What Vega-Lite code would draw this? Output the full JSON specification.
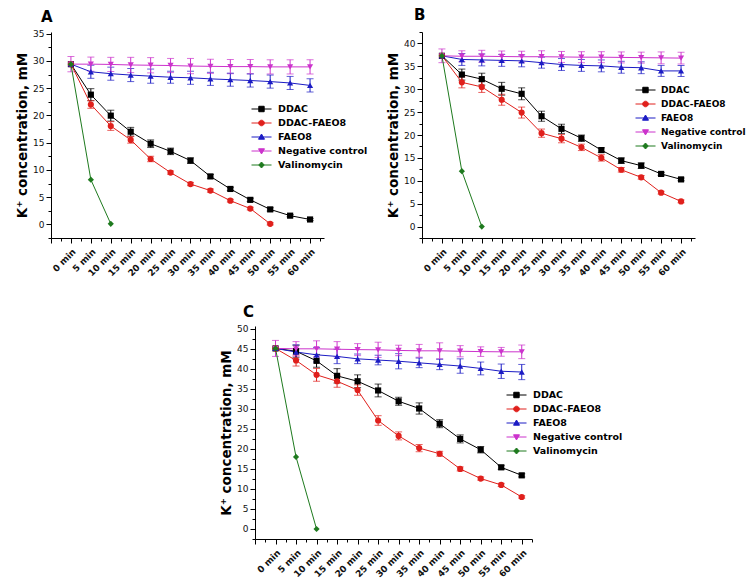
{
  "$schema": "https://vega.github.io/schema/vega-lite/v6.json",
  "padding": {"left": 15, "top": 8, "right": 2, "bottom": 2},
  "background": "white",
  "config": {
    "view": {"stroke": null},
    "font": "DejaVu Sans",
    "axis": {
      "grid": false,
      "domainColor": "#000",
      "domainWidth": 1,
      "tickColor": "#000",
      "tickWidth": 1,
      "labelColor": "#111",
      "labelFont": "DejaVu Sans",
      "labelFontSize": 9,
      "labelFlush": false,
      "labelOverlap": false,
      "titleFont": "DejaVu Sans",
      "titleFontSize": 13.5,
      "titleFontWeight": "bold",
      "titleColor": "#000"
    },
    "axisX": {
      "labelAngle": -45,
      "labelAlign": "right",
      "labelBaseline": "top",
      "labelFontWeight": "bold",
      "labelFontSize": 9,
      "labelPadding": 4,
      "labelOverlap": false,
      "title": null
    },
    "axisY": {
      "labelPadding": 2,
      "titlePadding": 3,
      "labelOverlap": false
    },
    "legend": {
      "orient": "none",
      "title": null,
      "labelFont": "DejaVu Sans",
      "labelFontSize": 9.5,
      "labelFontWeight": "bold",
      "labelColor": "#000",
      "symbolSize": 169,
      "symbolStrokeWidth": 1,
      "symbolOpacity": 1,
      "rowPadding": 2,
      "labelOffset": 13
    },
    "title": {"font": "DejaVu Sans", "fontSize": 15, "fontWeight": "bold", "color": "#000", "anchor": "start", "frame": "group", "offset": 5}
  },
  "datasets": {
    "panelA": [
      {"t": 0, "series": "DDAC", "k": 29.4, "err": 0},
      {"t": 5, "series": "DDAC", "k": 23.8, "err": 1.1},
      {"t": 10, "series": "DDAC", "k": 19.95, "err": 1.0},
      {"t": 15, "series": "DDAC", "k": 17.0, "err": 0.8},
      {"t": 20, "series": "DDAC", "k": 14.8, "err": 0.7},
      {"t": 25, "series": "DDAC", "k": 13.4, "err": 0.6},
      {"t": 30, "series": "DDAC", "k": 11.7, "err": 0.5},
      {"t": 35, "series": "DDAC", "k": 8.8, "err": 0.35},
      {"t": 40, "series": "DDAC", "k": 6.5, "err": 0.3},
      {"t": 45, "series": "DDAC", "k": 4.5, "err": 0.3},
      {"t": 50, "series": "DDAC", "k": 2.75, "err": 0.3},
      {"t": 55, "series": "DDAC", "k": 1.6, "err": 0.2},
      {"t": 60, "series": "DDAC", "k": 0.9, "err": 0.2},
      {"t": 0, "series": "DDAC-FAEO8", "k": 29.4, "err": 0},
      {"t": 5, "series": "DDAC-FAEO8", "k": 22.0, "err": 0.7},
      {"t": 10, "series": "DDAC-FAEO8", "k": 18.05, "err": 0.8},
      {"t": 15, "series": "DDAC-FAEO8", "k": 15.5, "err": 0.6},
      {"t": 20, "series": "DDAC-FAEO8", "k": 12.0, "err": 0.5},
      {"t": 25, "series": "DDAC-FAEO8", "k": 9.5, "err": 0.3},
      {"t": 30, "series": "DDAC-FAEO8", "k": 7.4, "err": 0.3},
      {"t": 35, "series": "DDAC-FAEO8", "k": 6.2, "err": 0.3},
      {"t": 40, "series": "DDAC-FAEO8", "k": 4.35, "err": 0.25},
      {"t": 45, "series": "DDAC-FAEO8", "k": 2.9, "err": 0.25},
      {"t": 50, "series": "DDAC-FAEO8", "k": 0.1, "err": 0.2},
      {"t": 0, "series": "FAEO8", "k": 29.4, "err": 0},
      {"t": 5, "series": "FAEO8", "k": 28.0, "err": 1.2},
      {"t": 10, "series": "FAEO8", "k": 27.65, "err": 1.2},
      {"t": 15, "series": "FAEO8", "k": 27.4, "err": 1.2},
      {"t": 20, "series": "FAEO8", "k": 27.2, "err": 1.3},
      {"t": 25, "series": "FAEO8", "k": 27.0, "err": 1.1},
      {"t": 30, "series": "FAEO8", "k": 26.9, "err": 1.2},
      {"t": 35, "series": "FAEO8", "k": 26.7, "err": 1.2},
      {"t": 40, "series": "FAEO8", "k": 26.55, "err": 1.2},
      {"t": 45, "series": "FAEO8", "k": 26.4, "err": 1.2},
      {"t": 50, "series": "FAEO8", "k": 26.2, "err": 1.2},
      {"t": 55, "series": "FAEO8", "k": 25.95, "err": 1.2},
      {"t": 60, "series": "FAEO8", "k": 25.5, "err": 1.2},
      {"t": 0, "series": "Negative control", "k": 29.4, "err": 1.4},
      {"t": 5, "series": "Negative control", "k": 29.4, "err": 1.3},
      {"t": 10, "series": "Negative control", "k": 29.35, "err": 1.3},
      {"t": 15, "series": "Negative control", "k": 29.25, "err": 1.4},
      {"t": 20, "series": "Negative control", "k": 29.2, "err": 1.4},
      {"t": 25, "series": "Negative control", "k": 29.15, "err": 1.3},
      {"t": 30, "series": "Negative control", "k": 29.05, "err": 1.4},
      {"t": 35, "series": "Negative control", "k": 29.0, "err": 1.3},
      {"t": 40, "series": "Negative control", "k": 28.95, "err": 1.3},
      {"t": 45, "series": "Negative control", "k": 28.95, "err": 1.3},
      {"t": 50, "series": "Negative control", "k": 28.9, "err": 1.3},
      {"t": 55, "series": "Negative control", "k": 28.9, "err": 1.3},
      {"t": 60, "series": "Negative control", "k": 28.9, "err": 1.3},
      {"t": 0, "series": "Valinomycin", "k": 29.4, "err": 0},
      {"t": 5, "series": "Valinomycin", "k": 8.2, "err": 0},
      {"t": 10, "series": "Valinomycin", "k": 0.1, "err": 0}
    ],
    "panelB": [
      {"t": 0, "series": "DDAC", "k": 37.3, "err": 0},
      {"t": 5, "series": "DDAC", "k": 33.2, "err": 1.2},
      {"t": 10, "series": "DDAC", "k": 32.2, "err": 1.3},
      {"t": 15, "series": "DDAC", "k": 30.1, "err": 1.4},
      {"t": 20, "series": "DDAC", "k": 29.0, "err": 1.3},
      {"t": 25, "series": "DDAC", "k": 24.1, "err": 1.1},
      {"t": 30, "series": "DDAC", "k": 21.35, "err": 1.0},
      {"t": 35, "series": "DDAC", "k": 19.3, "err": 0.7},
      {"t": 40, "series": "DDAC", "k": 16.7, "err": 0.5},
      {"t": 45, "series": "DDAC", "k": 14.4, "err": 0.6},
      {"t": 50, "series": "DDAC", "k": 13.3, "err": 0.6},
      {"t": 55, "series": "DDAC", "k": 11.5, "err": 0.3},
      {"t": 60, "series": "DDAC", "k": 10.3, "err": 0.3},
      {"t": 0, "series": "DDAC-FAEO8", "k": 37.3, "err": 0},
      {"t": 5, "series": "DDAC-FAEO8", "k": 31.5, "err": 1.2},
      {"t": 10, "series": "DDAC-FAEO8", "k": 30.5, "err": 1.2},
      {"t": 15, "series": "DDAC-FAEO8", "k": 27.7, "err": 1.2},
      {"t": 20, "series": "DDAC-FAEO8", "k": 24.9, "err": 1.2},
      {"t": 25, "series": "DDAC-FAEO8", "k": 20.4, "err": 0.9},
      {"t": 30, "series": "DDAC-FAEO8", "k": 19.2, "err": 0.9},
      {"t": 35, "series": "DDAC-FAEO8", "k": 17.3, "err": 0.7},
      {"t": 40, "series": "DDAC-FAEO8", "k": 15.0, "err": 0.7},
      {"t": 45, "series": "DDAC-FAEO8", "k": 12.4, "err": 0.5},
      {"t": 50, "series": "DDAC-FAEO8", "k": 10.75, "err": 0.4},
      {"t": 55, "series": "DDAC-FAEO8", "k": 7.4, "err": 0.3},
      {"t": 60, "series": "DDAC-FAEO8", "k": 5.5, "err": 0.3},
      {"t": 0, "series": "FAEO8", "k": 37.3, "err": 0},
      {"t": 5, "series": "FAEO8", "k": 36.5, "err": 1.3},
      {"t": 10, "series": "FAEO8", "k": 36.4, "err": 1.3},
      {"t": 15, "series": "FAEO8", "k": 36.3, "err": 1.3},
      {"t": 20, "series": "FAEO8", "k": 36.2, "err": 1.3},
      {"t": 25, "series": "FAEO8", "k": 35.8, "err": 1.2},
      {"t": 30, "series": "FAEO8", "k": 35.4, "err": 1.3},
      {"t": 35, "series": "FAEO8", "k": 35.2, "err": 1.3},
      {"t": 40, "series": "FAEO8", "k": 35.1, "err": 1.3},
      {"t": 45, "series": "FAEO8", "k": 34.8, "err": 1.3},
      {"t": 50, "series": "FAEO8", "k": 34.7, "err": 1.3},
      {"t": 55, "series": "FAEO8", "k": 34.0, "err": 1.2},
      {"t": 60, "series": "FAEO8", "k": 34.0, "err": 1.2},
      {"t": 0, "series": "Negative control", "k": 37.3, "err": 1.5},
      {"t": 5, "series": "Negative control", "k": 37.2, "err": 1.2},
      {"t": 10, "series": "Negative control", "k": 37.2, "err": 1.3},
      {"t": 15, "series": "Negative control", "k": 37.15, "err": 1.2},
      {"t": 20, "series": "Negative control", "k": 37.1, "err": 1.2},
      {"t": 25, "series": "Negative control", "k": 37.1, "err": 1.3},
      {"t": 30, "series": "Negative control", "k": 37.05, "err": 1.2},
      {"t": 35, "series": "Negative control", "k": 37.0, "err": 1.2},
      {"t": 40, "series": "Negative control", "k": 37.0, "err": 1.2},
      {"t": 45, "series": "Negative control", "k": 36.95, "err": 1.2},
      {"t": 50, "series": "Negative control", "k": 36.9, "err": 1.2},
      {"t": 55, "series": "Negative control", "k": 36.85, "err": 1.3},
      {"t": 60, "series": "Negative control", "k": 36.8, "err": 1.3},
      {"t": 0, "series": "Valinomycin", "k": 37.3, "err": 0},
      {"t": 5, "series": "Valinomycin", "k": 12.1, "err": 0},
      {"t": 10, "series": "Valinomycin", "k": 0.0, "err": 0}
    ],
    "panelC": [
      {"t": 0, "series": "DDAC", "k": 45.1, "err": 0},
      {"t": 5, "series": "DDAC", "k": 44.4, "err": 1.5},
      {"t": 10, "series": "DDAC", "k": 42.0, "err": 1.6},
      {"t": 15, "series": "DDAC", "k": 38.25, "err": 1.8},
      {"t": 20, "series": "DDAC", "k": 36.9, "err": 1.6},
      {"t": 25, "series": "DDAC", "k": 34.6, "err": 1.6},
      {"t": 30, "series": "DDAC", "k": 31.9, "err": 1.0},
      {"t": 35, "series": "DDAC", "k": 30.1, "err": 1.4},
      {"t": 40, "series": "DDAC", "k": 26.3, "err": 1.0},
      {"t": 45, "series": "DDAC", "k": 22.5, "err": 1.0},
      {"t": 50, "series": "DDAC", "k": 19.8, "err": 0.8},
      {"t": 55, "series": "DDAC", "k": 15.4, "err": 0.5},
      {"t": 60, "series": "DDAC", "k": 13.4, "err": 0.4},
      {"t": 0, "series": "DDAC-FAEO8", "k": 45.1, "err": 0},
      {"t": 5, "series": "DDAC-FAEO8", "k": 42.1, "err": 1.4},
      {"t": 10, "series": "DDAC-FAEO8", "k": 38.5, "err": 1.6},
      {"t": 15, "series": "DDAC-FAEO8", "k": 36.9, "err": 1.5},
      {"t": 20, "series": "DDAC-FAEO8", "k": 34.7, "err": 1.3},
      {"t": 25, "series": "DDAC-FAEO8", "k": 27.1, "err": 1.2},
      {"t": 30, "series": "DDAC-FAEO8", "k": 23.25, "err": 1.0},
      {"t": 35, "series": "DDAC-FAEO8", "k": 20.2, "err": 0.9},
      {"t": 40, "series": "DDAC-FAEO8", "k": 18.8, "err": 0.6},
      {"t": 45, "series": "DDAC-FAEO8", "k": 15.0, "err": 0.5},
      {"t": 50, "series": "DDAC-FAEO8", "k": 12.6, "err": 0.4},
      {"t": 55, "series": "DDAC-FAEO8", "k": 11.0, "err": 0.4},
      {"t": 60, "series": "DDAC-FAEO8", "k": 8.0, "err": 0.3},
      {"t": 0, "series": "FAEO8", "k": 45.1, "err": 0},
      {"t": 5, "series": "FAEO8", "k": 44.2, "err": 1.8},
      {"t": 10, "series": "FAEO8", "k": 43.5, "err": 1.8},
      {"t": 15, "series": "FAEO8", "k": 43.1, "err": 1.8},
      {"t": 20, "series": "FAEO8", "k": 42.5, "err": 1.2},
      {"t": 25, "series": "FAEO8", "k": 42.2, "err": 1.2},
      {"t": 30, "series": "FAEO8", "k": 41.9, "err": 1.9},
      {"t": 35, "series": "FAEO8", "k": 41.5, "err": 1.2},
      {"t": 40, "series": "FAEO8", "k": 41.1, "err": 1.3},
      {"t": 45, "series": "FAEO8", "k": 40.7, "err": 1.8},
      {"t": 50, "series": "FAEO8", "k": 40.1, "err": 1.6},
      {"t": 55, "series": "FAEO8", "k": 39.4, "err": 1.8},
      {"t": 60, "series": "FAEO8", "k": 39.2, "err": 1.9},
      {"t": 0, "series": "Negative control", "k": 45.1, "err": 2.0},
      {"t": 5, "series": "Negative control", "k": 45.0, "err": 1.8},
      {"t": 10, "series": "Negative control", "k": 45.0, "err": 2.0},
      {"t": 15, "series": "Negative control", "k": 44.9, "err": 1.9},
      {"t": 20, "series": "Negative control", "k": 44.8, "err": 1.5},
      {"t": 25, "series": "Negative control", "k": 44.75, "err": 1.9},
      {"t": 30, "series": "Negative control", "k": 44.6, "err": 1.3},
      {"t": 35, "series": "Negative control", "k": 44.5, "err": 1.6},
      {"t": 40, "series": "Negative control", "k": 44.5, "err": 2.0},
      {"t": 45, "series": "Negative control", "k": 44.4, "err": 1.4},
      {"t": 50, "series": "Negative control", "k": 44.3, "err": 1.2},
      {"t": 55, "series": "Negative control", "k": 44.25, "err": 1.1},
      {"t": 60, "series": "Negative control", "k": 44.25, "err": 1.7},
      {"t": 0, "series": "Valinomycin", "k": 45.1, "err": 0},
      {"t": 5, "series": "Valinomycin", "k": 18.0, "err": 0},
      {"t": 10, "series": "Valinomycin", "k": 0.0, "err": 0}
    ]
  },
  "resolve": {"scale": {"color": "independent"}, "legend": {"color": "independent"}},
  "spacing": 26,
  "vconcat": [
    {
      "spacing": 18,
      "resolve": {"scale": {"color": "independent"}, "legend": {"color": "independent"}},
      "hconcat": [
        {
          "title": {"text": "A", "dx": -10},
          "width": 273,
          "height": 206,
          "data": {"name": "panelA"},
          "encoding": {
            "x": {"field": "t", "type": "quantitative", "scale": {"domain": [-5, 63.5], "nice": false, "zero": false},
                  "axis": {"labelOverlap": false,
                    "values": [-5, -2.5, 0, 2.5, 5, 7.5, 10, 12.5, 15, 17.5, 20, 22.5, 25, 27.5, 30, 32.5, 35, 37.5, 40, 42.5, 45, 47.5, 50, 52.5, 55, 57.5, 60, 62.5],
                    "labelExpr": "datum.value >= 0 && datum.value % 5 === 0 ? datum.value + ' min' : ''",
                    "tickSize": {"condition": {"test": "datum.value % 5 === 0", "value": 5}, "value": 3}}},
            "y": {"field": "k", "type": "quantitative", "title": "K⁺ concentration, mM", "scale": {"domain": [-2.5, 35.3], "nice": false, "zero": false},
                  "axis": {"labelOverlap": false,
                    "values": [-2.5, 0, 2.5, 5, 7.5, 10, 12.5, 15, 17.5, 20, 22.5, 25, 27.5, 30, 32.5, 35],
                    "labelExpr": "datum.value >= 0 && datum.value % 5 === 0 ? datum.label : ''",
                    "tickSize": {"condition": {"test": "datum.value % 5 === 0", "value": 5}, "value": 3}}},
            "color": {"field": "series", "type": "nominal",
              "scale": {"domain": ["DDAC", "DDAC-FAEO8", "FAEO8", "Negative control", "Valinomycin"], "range": ["#000000", "#e0201c", "#1c1cc4", "#cc33cc", "#1e7a1e"]},
              "legend": {"legendX": 200, "legendY": 70,
                "symbolType": {"expr": "({'DDAC': 'M-1,0H2.08M0.12,-0.42H0.95V0.42H0.12Z', 'DDAC-FAEO8': 'M-1,0H2.08M0.11,0A0.43,0.43,0,1,0,0.97,0A0.43,0.43,0,1,0,0.11,0Z', 'FAEO8': 'M-1,0H2.08M0.54,-0.46L1,0.34H0.08Z', 'Negative control': 'M-1,0H2.08M0.54,0.46L1,-0.34H0.08Z', 'Valinomycin': 'M-1,0H2.08M0.54,-0.46L0.95,0L0.54,0.46L0.12,0Z'})[datum.value]"},
                "symbolFillColor": {"expr": "({'DDAC': '#000000', 'DDAC-FAEO8': '#e0201c', 'FAEO8': '#1c1cc4', 'Negative control': '#cc33cc', 'Valinomycin': '#1e7a1e'})[datum.value]"},
                "symbolStrokeColor": {"expr": "({'DDAC': '#000000', 'DDAC-FAEO8': '#e0201c', 'FAEO8': '#1c1cc4', 'Negative control': '#cc33cc', 'Valinomycin': '#1e7a1e'})[datum.value]"}}}
          },
          "layer": [
            {"transform": [{"filter": "datum.err > 0"}], "mark": {"type": "errorbar", "ticks": {"size": 7}, "thickness": 1}, "encoding": {"yError": {"field": "err"}}},
            {"mark": {"type": "line", "strokeWidth": 1}},
            {"transform": [{"filter": "datum.series === 'DDAC'"}], "mark": {"type": "point", "shape": "square", "filled": true, "size": 38, "opacity": 1}},
            {"transform": [{"filter": "datum.series === 'DDAC-FAEO8'"}], "mark": {"type": "point", "shape": "circle", "filled": true, "size": 38, "opacity": 1}},
            {"transform": [{"filter": "datum.series === 'FAEO8'"}], "mark": {"type": "point", "shape": "triangle-up", "filled": true, "size": 38, "opacity": 1}},
            {"transform": [{"filter": "datum.series === 'Negative control'"}], "mark": {"type": "point", "shape": "triangle-down", "filled": true, "size": 38, "opacity": 1}},
            {"transform": [{"filter": "datum.series === 'Valinomycin'"}], "mark": {"type": "point", "shape": "diamond", "filled": true, "size": 38, "opacity": 1}}
          ]
        },
        {
          "title": {"text": "B", "dx": -8},
          "width": 273,
          "height": 206,
          "data": {"name": "panelB"},
          "encoding": {
            "x": {"field": "t", "type": "quantitative", "scale": {"domain": [-5, 63.5], "nice": false, "zero": false},
                  "axis": {"labelOverlap": false,
                    "values": [-5, -2.5, 0, 2.5, 5, 7.5, 10, 12.5, 15, 17.5, 20, 22.5, 25, 27.5, 30, 32.5, 35, 37.5, 40, 42.5, 45, 47.5, 50, 52.5, 55, 57.5, 60, 62.5],
                    "labelExpr": "datum.value >= 0 && datum.value % 5 === 0 ? datum.value + ' min' : ''",
                    "tickSize": {"condition": {"test": "datum.value % 5 === 0", "value": 5}, "value": 3}}},
            "y": {"field": "k", "type": "quantitative", "title": "K⁺ concentration, mM", "scale": {"domain": [-2.5, 42.5], "nice": false, "zero": false},
                  "axis": {"labelOverlap": false,
                    "values": [-2.5, 0, 2.5, 5, 7.5, 10, 12.5, 15, 17.5, 20, 22.5, 25, 27.5, 30, 32.5, 35, 37.5, 40, 42.5],
                    "labelExpr": "datum.value >= 0 && datum.value % 5 === 0 ? datum.label : ''",
                    "tickSize": {"condition": {"test": "datum.value % 5 === 0", "value": 5}, "value": 3}}},
            "color": {"field": "series", "type": "nominal",
              "scale": {"domain": ["DDAC", "DDAC-FAEO8", "FAEO8", "Negative control", "Valinomycin"], "range": ["#000000", "#e0201c", "#1c1cc4", "#cc33cc", "#1e7a1e"]},
              "legend": {"legendX": 213, "legendY": 51, "labelFontSize": 9, "labelOffset": 12,
                "symbolType": {"expr": "({'DDAC': 'M-1,0H2.08M0.12,-0.42H0.95V0.42H0.12Z', 'DDAC-FAEO8': 'M-1,0H2.08M0.11,0A0.43,0.43,0,1,0,0.97,0A0.43,0.43,0,1,0,0.11,0Z', 'FAEO8': 'M-1,0H2.08M0.54,-0.46L1,0.34H0.08Z', 'Negative control': 'M-1,0H2.08M0.54,0.46L1,-0.34H0.08Z', 'Valinomycin': 'M-1,0H2.08M0.54,-0.46L0.95,0L0.54,0.46L0.12,0Z'})[datum.value]"},
                "symbolFillColor": {"expr": "({'DDAC': '#000000', 'DDAC-FAEO8': '#e0201c', 'FAEO8': '#1c1cc4', 'Negative control': '#cc33cc', 'Valinomycin': '#1e7a1e'})[datum.value]"},
                "symbolStrokeColor": {"expr": "({'DDAC': '#000000', 'DDAC-FAEO8': '#e0201c', 'FAEO8': '#1c1cc4', 'Negative control': '#cc33cc', 'Valinomycin': '#1e7a1e'})[datum.value]"}}}
          },
          "layer": [
            {"transform": [{"filter": "datum.err > 0"}], "mark": {"type": "errorbar", "ticks": {"size": 7}, "thickness": 1}, "encoding": {"yError": {"field": "err"}}},
            {"mark": {"type": "line", "strokeWidth": 1}},
            {"transform": [{"filter": "datum.series === 'DDAC'"}], "mark": {"type": "point", "shape": "square", "filled": true, "size": 38, "opacity": 1}},
            {"transform": [{"filter": "datum.series === 'DDAC-FAEO8'"}], "mark": {"type": "point", "shape": "circle", "filled": true, "size": 38, "opacity": 1}},
            {"transform": [{"filter": "datum.series === 'FAEO8'"}], "mark": {"type": "point", "shape": "triangle-up", "filled": true, "size": 38, "opacity": 1}},
            {"transform": [{"filter": "datum.series === 'Negative control'"}], "mark": {"type": "point", "shape": "triangle-down", "filled": true, "size": 38, "opacity": 1}},
            {"transform": [{"filter": "datum.series === 'Valinomycin'"}], "mark": {"type": "point", "shape": "diamond", "filled": true, "size": 38, "opacity": 1}}
          ]
        }
      ]
    },
    {
      "spacing": 10,
      "resolve": {"scale": {"color": "independent"}, "legend": {"color": "independent"}},
      "hconcat": [
        {"width": 158, "height": 10, "data": {"values": []}, "mark": "point"},
        {
          "title": {"text": "C", "dx": -12},
          "width": 277,
          "height": 213,
          "data": {"name": "panelC"},
          "encoding": {
            "x": {"field": "t", "type": "quantitative", "scale": {"domain": [-5, 62.5], "nice": false, "zero": false},
                  "axis": {"labelOverlap": false,
                    "values": [-5, -2.5, 0, 2.5, 5, 7.5, 10, 12.5, 15, 17.5, 20, 22.5, 25, 27.5, 30, 32.5, 35, 37.5, 40, 42.5, 45, 47.5, 50, 52.5, 55, 57.5, 60, 62.5],
                    "labelExpr": "datum.value >= 0 && datum.value % 5 === 0 ? datum.value + ' min' : ''",
                    "tickSize": {"condition": {"test": "datum.value % 5 === 0", "value": 5}, "value": 3}}},
            "y": {"field": "k", "type": "quantitative", "title": "K⁺ concentration, mM", "scale": {"domain": [-2.5, 50.7], "nice": false, "zero": false},
                  "axis": {"labelOverlap": false,
                    "values": [-2.5, 0, 2.5, 5, 7.5, 10, 12.5, 15, 17.5, 20, 22.5, 25, 27.5, 30, 32.5, 35, 37.5, 40, 42.5, 45, 47.5, 50],
                    "labelExpr": "datum.value >= 0 && datum.value % 5 === 0 ? datum.label : ''",
                    "tickSize": {"condition": {"test": "datum.value % 5 === 0", "value": 5}, "value": 3}}},
            "color": {"field": "series", "type": "nominal",
              "scale": {"domain": ["DDAC", "DDAC-FAEO8", "FAEO8", "Negative control", "Valinomycin"], "range": ["#000000", "#e0201c", "#1c1cc4", "#cc33cc", "#1e7a1e"]},
              "legend": {"legendX": 251, "legendY": 62,
                "symbolType": {"expr": "({'DDAC': 'M-1,0H2.08M0.12,-0.42H0.95V0.42H0.12Z', 'DDAC-FAEO8': 'M-1,0H2.08M0.11,0A0.43,0.43,0,1,0,0.97,0A0.43,0.43,0,1,0,0.11,0Z', 'FAEO8': 'M-1,0H2.08M0.54,-0.46L1,0.34H0.08Z', 'Negative control': 'M-1,0H2.08M0.54,0.46L1,-0.34H0.08Z', 'Valinomycin': 'M-1,0H2.08M0.54,-0.46L0.95,0L0.54,0.46L0.12,0Z'})[datum.value]"},
                "symbolFillColor": {"expr": "({'DDAC': '#000000', 'DDAC-FAEO8': '#e0201c', 'FAEO8': '#1c1cc4', 'Negative control': '#cc33cc', 'Valinomycin': '#1e7a1e'})[datum.value]"},
                "symbolStrokeColor": {"expr": "({'DDAC': '#000000', 'DDAC-FAEO8': '#e0201c', 'FAEO8': '#1c1cc4', 'Negative control': '#cc33cc', 'Valinomycin': '#1e7a1e'})[datum.value]"}}}
          },
          "layer": [
            {"transform": [{"filter": "datum.err > 0"}], "mark": {"type": "errorbar", "ticks": {"size": 7}, "thickness": 1}, "encoding": {"yError": {"field": "err"}}},
            {"mark": {"type": "line", "strokeWidth": 1}},
            {"transform": [{"filter": "datum.series === 'DDAC'"}], "mark": {"type": "point", "shape": "square", "filled": true, "size": 38, "opacity": 1}},
            {"transform": [{"filter": "datum.series === 'DDAC-FAEO8'"}], "mark": {"type": "point", "shape": "circle", "filled": true, "size": 38, "opacity": 1}},
            {"transform": [{"filter": "datum.series === 'FAEO8'"}], "mark": {"type": "point", "shape": "triangle-up", "filled": true, "size": 38, "opacity": 1}},
            {"transform": [{"filter": "datum.series === 'Negative control'"}], "mark": {"type": "point", "shape": "triangle-down", "filled": true, "size": 38, "opacity": 1}},
            {"transform": [{"filter": "datum.series === 'Valinomycin'"}], "mark": {"type": "point", "shape": "diamond", "filled": true, "size": 38, "opacity": 1}}
          ]
        }
      ]
    }
  ]
}
